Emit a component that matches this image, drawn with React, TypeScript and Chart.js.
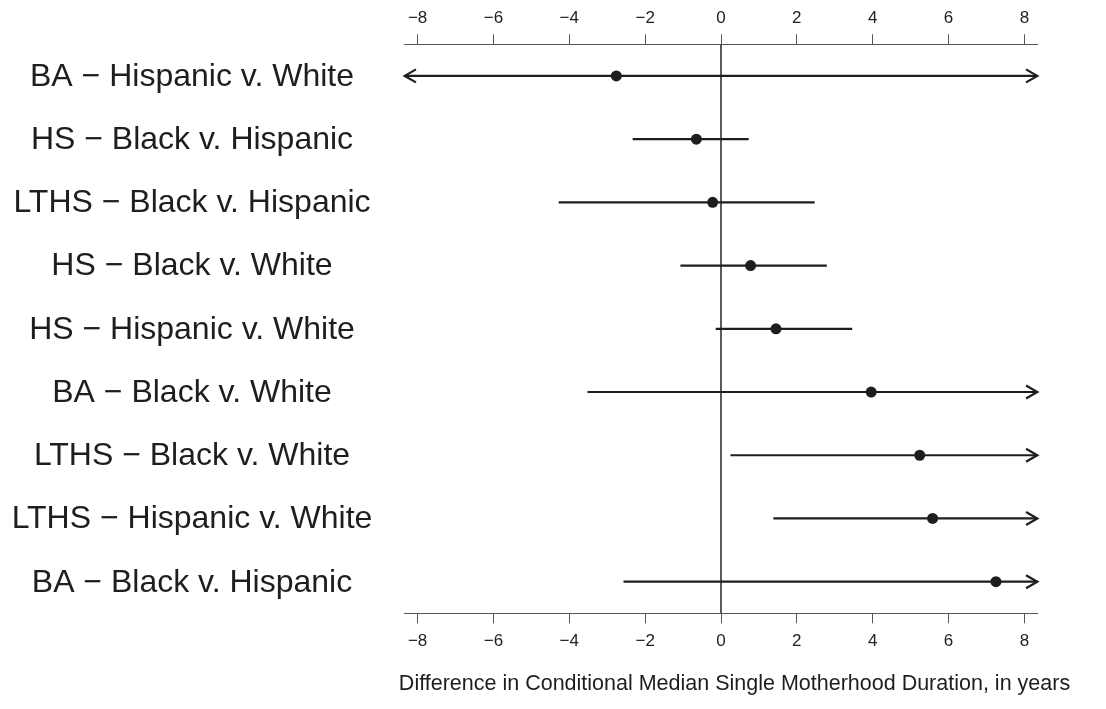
import React, { useEffect, useRef } from "react";
import { Chart, registerables } from "chart.js";

Chart.register(...registerables);

const comparisonLabels = [
  "BA − Hispanic v. White",
  "HS − Black v. Hispanic",
  "LTHS − Black v. Hispanic",
  "HS − Black v. White",
  "HS − Hispanic v. White",
  "BA − Black v. White",
  "LTHS − Black v. White",
  "LTHS − Hispanic v. White",
  "BA − Black v. Hispanic",
];
const estimates = [-2.76, -0.65, -0.22, 0.78, 1.45, 3.96, 5.24, 5.58, 7.25];
// -Infinity / Infinity: interval extends beyond the plotted range (drawn as an arrow)
const ciLower = [-Infinity, -2.33, -4.28, -1.07, -0.14, -3.52, 0.25, 1.38, -2.57];
const ciUpper = [Infinity, 0.73, 2.47, 2.79, 3.46, Infinity, Infinity, Infinity, Infinity];
const xTickValues = [-8, -6, -4, -2, 0, 2, 4, 6, 8];
const X_MIN = -8.34;
const X_MAX = 8.34;
const axisTitle = "Difference in Conditional Median Single Motherhood Duration, in years";

const FONT = "'Liberation Sans', Arial, Helvetica, sans-serif";
const INK = "#1f1d1e";
const AXIS = "#555555";

const W = 1106;
const H = 709;

const fmtTick = (v: number | string) => String(v).replace("-", "\u2212");

const drawPlugin = {
  id: "forestDraw",
  beforeDatasetsDraw(chart: any) {
    const ctx = chart.ctx as CanvasRenderingContext2D;
    const xs = chart.scales.x;
    const ys = chart.scales.y;
    const area = chart.chartArea;
    ctx.save();
    // zero reference line
    const x0 = xs.getPixelForValue(0);
    ctx.strokeStyle = "#4a4a4a";
    ctx.lineWidth = 1.8;
    ctx.beginPath();
    ctx.moveTo(x0, area.top);
    ctx.lineTo(x0, area.bottom);
    ctx.stroke();

    // intervals
    ctx.strokeStyle = INK;
    ctx.lineWidth = 2.2;
    ctx.lineCap = "butt";
    const head = 13;
    const ang = (30 * Math.PI) / 180;
    for (let i = 0; i < estimates.length; i++) {
      const y = ys.getPixelForValue(i + 1);
      const loClamped = ciLower[i] < X_MIN;
      const hiClamped = ciUpper[i] > X_MAX;
      const lo = xs.getPixelForValue(Math.max(ciLower[i], X_MIN));
      const hi = xs.getPixelForValue(Math.min(ciUpper[i], X_MAX));
      ctx.beginPath();
      ctx.moveTo(lo, y);
      ctx.lineTo(hi, y);
      ctx.stroke();
      if (hiClamped) {
        ctx.beginPath();
        ctx.moveTo(hi - head * Math.cos(ang), y - head * Math.sin(ang));
        ctx.lineTo(hi, y);
        ctx.lineTo(hi - head * Math.cos(ang), y + head * Math.sin(ang));
        ctx.stroke();
      }
      if (loClamped) {
        ctx.beginPath();
        ctx.moveTo(lo + head * Math.cos(ang), y - head * Math.sin(ang));
        ctx.lineTo(lo, y);
        ctx.lineTo(lo + head * Math.cos(ang), y + head * Math.sin(ang));
        ctx.stroke();
      }
    }
    ctx.restore();
  },
  afterDraw(chart: any) {
    const ctx = chart.ctx as CanvasRenderingContext2D;
    const ys = chart.scales.y;
    ctx.save();
    ctx.fillStyle = INK;
    ctx.textAlign = "center";
    ctx.textBaseline = "middle";
    ctx.font = `32px ${FONT}`;
    for (let i = 0; i < comparisonLabels.length; i++) {
      ctx.fillText(comparisonLabels[i], 192, ys.getPixelForValue(i + 1) + 1);
    }
    ctx.font = `21.5px ${FONT}`;
    ctx.fillText(axisTitle, 734.5, 684);
    ctx.restore();
  },
};

function xAxis(position: "top" | "bottom", height: number, padding: number) {
  return {
    type: "linear",
    position,
    min: X_MIN,
    max: X_MAX,
    afterBuildTicks: (scale: any) => {
      scale.ticks = xTickValues.map((v) => ({ value: v }));
    },
    afterFit: (scale: any) => {
      scale.height = height;
    },
    ticks: {
      autoSkip: false,
      maxRotation: 0,
      includeBounds: false,
      padding,
      color: "#222222",
      font: { family: FONT, size: 17 },
      callback: (v: number) => fmtTick(v),
    },
    grid: {
      drawOnChartArea: false,
      drawTicks: true,
      tickLength: 10,
      tickColor: AXIS,
      tickWidth: 1,
    },
    border: { display: true, color: AXIS, width: 1 },
  };
}

export default function App() {
  const ref = useRef<HTMLCanvasElement | null>(null);
  useEffect(() => {
    if (!ref.current) return;
    const chart = new Chart(ref.current, {
      type: "scatter",
      data: {
        datasets: [
          {
            data: estimates.map((x, i) => ({ x, y: i + 1 })),
            pointRadius: 5.5,
            pointHoverRadius: 5.5,
            backgroundColor: INK,
            borderColor: INK,
            borderWidth: 0,
            showLine: false,
          },
        ],
      },
      options: {
        animation: false,
        responsive: false,
        maintainAspectRatio: false,
        events: [],
        layout: { padding: { left: 404.7, right: W - 1037.3, top: 0, bottom: 0 } },
        plugins: { legend: { display: false }, tooltip: { enabled: false }, title: { display: false } },
        scales: {
          x: xAxis("bottom", H - 613.3, 8) as any,
          x2: xAxis("top", 44.3, 6) as any,
          y: { type: "linear", min: 0.5, max: 9.5, reverse: true, display: false },
        },
      },
      plugins: [drawPlugin],
    });
    return () => chart.destroy();
  }, []);
  return (
    <div style={{ position: "absolute", left: 0, top: 0, width: W, height: H, background: "#fff" }}>
      <canvas ref={ref} width={W} height={H} style={{ display: "block", width: W, height: H }} />
    </div>
  );
}
